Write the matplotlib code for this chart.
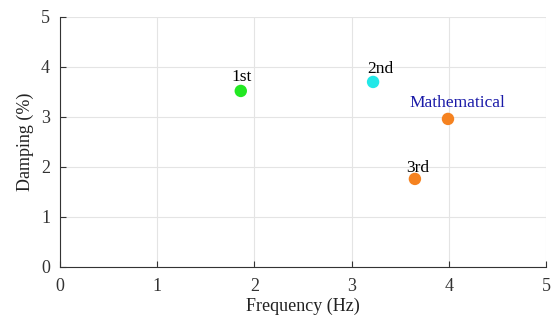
import matplotlib
matplotlib.use("Agg")
import matplotlib.pyplot as plt

plt.rcParams['font.family'] = ['Liberation Serif', 'DejaVu Serif']
plt.rcParams['mathtext.fontset'] = 'stix'

labels = ["1st", "2nd", "3rd", "Mathematical"]
freq = [1.86, 3.22, 3.65, 3.99]
damp = [3.52, 3.70, 1.76, 2.96]
colors = ["#22e822", "#22e8e8", "#f58220", "#f58220"]
label_colors = ["black", "black", "black", "#1a1aa8"]
label_offsets = [(0.5, 7), (5, 6.5), (2, 5), (7, 8.5)]

fig = plt.figure(figsize=(5.54, 3.2), dpi=100)
ax = fig.add_axes([0.108, 0.166, 0.878, 0.781])

for f, d, c in zip(freq, damp, colors):
    ax.scatter([f], [d], s=80, color=c, zorder=3, edgecolors='none')

for lab, f, d, lc, off in zip(labels, freq, damp, label_colors, label_offsets):
    ax.annotate(lab, (f, d), xytext=off, textcoords='offset points',
                ha='center', va='baseline', fontsize=12.5, color=lc)

ax.set_xlim(0, 5)
ax.set_ylim(0, 5)
ax.set_xticks([0, 1, 2, 3, 4, 5])
ax.set_yticks([0, 1, 2, 3, 4, 5])
ax.grid(True, color='#e4e4e4', linewidth=0.8)
ax.set_axisbelow(True)
for s in ['top', 'right']:
    ax.spines[s].set_visible(False)
for s in ['left', 'bottom']:
    ax.spines[s].set_color('#333333')
    ax.spines[s].set_linewidth(0.8)
ax.tick_params(direction='in', length=4, labelsize=13, colors='#333333', labelcolor='#333333')
ax.tick_params(axis='x', pad=8)
ax.tick_params(axis='y', pad=7)
ax.set_xlabel('Frequency (Hz)', fontsize=13, color='#222222', labelpad=2)
ax.set_ylabel('Damping (%)', fontsize=13, color='#222222', labelpad=5)

fig.savefig('out.png', dpi=100)
